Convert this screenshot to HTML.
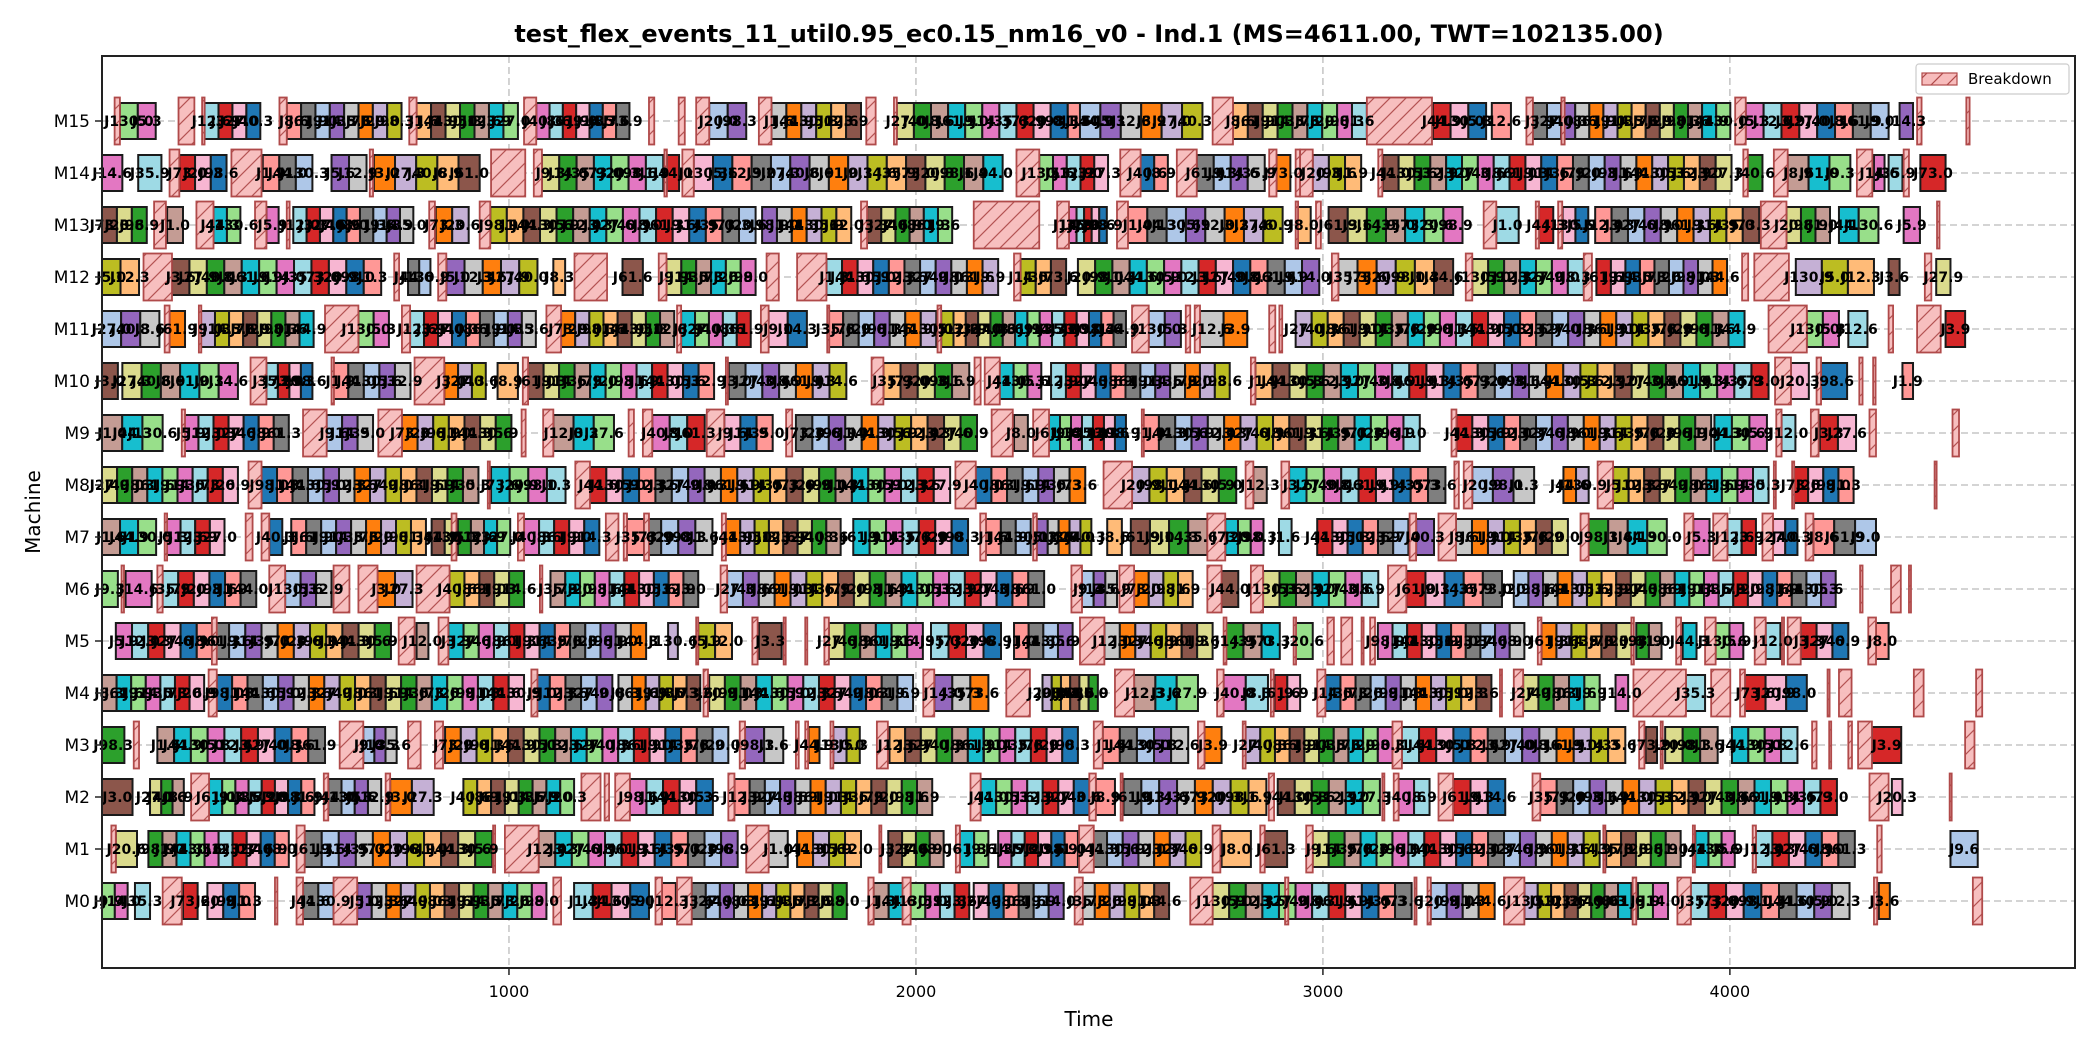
<!DOCTYPE html>
<html><head><meta charset="utf-8"><title>Gantt</title>
<style>
html,body{margin:0;padding:0;background:#fff;}
svg{display:block;}
text{font-family:"DejaVu Sans","Liberation Sans",sans-serif;}
</style></head>
<body>
<svg id="chart" width="2100" height="1050" viewBox="0 0 2100 1050" xmlns="http://www.w3.org/2000/svg">
<defs>
<pattern id="hatch" patternUnits="userSpaceOnUse" width="16" height="16" patternTransform="rotate(0)">
<rect width="16" height="16" fill="#f7bcbc"/>
<path d="M-4,20 L20,-4 M-4,4 L4,-4 M12,20 L20,12" stroke="#b04a4a" stroke-width="1.2"/>
</pattern>
</defs>
<rect x="0" y="0" width="2100" height="1050" fill="#fff"/>
<text x="1089" y="42" text-anchor="middle" font-size="24" font-weight="bold">test_flex_events_11_util0.95_ec0.15_nm16_v0 - Ind.1 (MS=4611.00, TWT=102135.00)</text>
<g id="grid"></g>
<g id="marks"></g>
<rect x="102" y="56" width="1973" height="912" fill="none" stroke="#222" stroke-width="2"/>
<g id="axes"></g>
<text x="1089" y="1026" text-anchor="middle" font-size="20">Time</text>
<text x="40" y="512" text-anchor="middle" font-size="20" transform="rotate(-90 40 512)">Machine</text>
<g>
<rect x="1916" y="64" width="153" height="30" rx="3" fill="#fff" fill-opacity="0.85" stroke="#ccc" stroke-width="1.2"/>
<rect x="1922" y="73" width="35" height="12" fill="url(#hatch)" stroke="#b04a4a" stroke-width="1.2"/>
<text x="1968" y="84" font-size="15">Breakdown</text>
</g>
</svg>
<script>
var xTicks=[1000,2000,3000,4000];
var machines=["M0","M1","M2","M3","M4","M5","M6","M7","M8","M9","M10","M11","M12","M13","M14","M15"];
// op clusters: [machine, start, end, count]
var opClusters=[
[15,44,132,2],[15,252,389,4],[15,454,736,8],[15,773,1022,7],[15,1067,1296,7],[15,1492,1583,2],[15,1645,1865,6],[15,1953,2457,12],[15,2403,2704,6],[15,2779,3108,9],[15,3270,3401,3],[15,3415,3462,1],[15,3516,4001,14],[15,4039,4390,8],[15,4417,4450,1],
[14,0,50,1],[14,89,146,1],[14,190,306,3],[14,395,517,3],[14,564,650,2],[14,668,928,5],[14,1081,1379,7],[14,1388,1418,1],[14,1454,2213,16],[14,2303,2472,5],[14,2552,2619,2],[14,2690,2857,4],[14,2886,2920,1],[14,2975,3094,3],[14,3147,4004,22],[14,4044,4080,1],[14,4142,4296,3],[14,4354,4380,1],[14,4390,4424,1],[14,4468,4530,1],
[13,0,110,3],[13,160,199,1],[13,274,340,2],[13,404,434,1],[13,470,765,9],[13,820,901,2],[13,954,1606,16],[13,1622,1841,6],[13,1880,2089,6],[13,2376,2469,5],[13,2521,2901,8],[13,2936,2970,1],[13,3014,3343,7],[13,3426,3481,1],[13,3531,3566,1],[13,3589,3652,2],[13,3669,4072,10],[13,4139,4246,3],[13,4268,4365,2],[13,4427,4467,1],
[12,0,91,2],[12,172,686,12],[12,752,807,2],[12,846,1070,5],[12,1109,1138,1],[12,1279,1329,1],[12,1387,1606,6],[12,1780,2202,11],[12,2257,2369,3],[12,2398,2991,14],[12,3038,3320,6],[12,3367,3641,7],[12,3672,3993,9],[12,4162,4354,3],[12,4390,4417,1],[12,4507,4542,1],
[11,0,141,3],[11,166,204,1],[11,243,520,8],[11,630,705,2],[11,757,1066,9],[11,1128,1406,8],[11,1423,1594,5],[11,1638,1732,2],[11,1783,2050,7],[11,2062,2516,15],[11,2572,2651,2],[11,2698,2814,2],[11,2933,4036,28],[11,4189,4268,2],[11,4291,4338,1],[11,4530,4578,1],
[10,0,39,1],[10,50,334,6],[10,404,517,4],[10,567,758,5],[10,841,943,3],[10,972,1022,1],[10,1047,1504,12],[10,1540,1829,7],[10,1920,2131,5],[10,2206,2308,3],[10,2332,2771,12],[10,2834,4095,30],[10,4150,4194,1],[10,4224,4288,1],[10,4424,4450,1],
[9,0,149,3],[9,200,459,7],[9,552,666,3],[9,737,1006,7],[9,1109,1258,3],[9,1352,1481,3],[9,1529,1648,3],[9,1705,2150,11],[9,2241,2275,1],[9,2327,2516,7],[9,2557,3238,17],[9,3328,3954,16],[9,3962,4091,3],[9,4127,4161,1],[9,4221,4310,2],
[8,0,334,9],[8,392,925,14],[8,956,1139,4],[8,1199,2084,22],[8,2147,2416,7],[8,2531,2787,6],[8,2829,2862,1],[8,2917,3301,9],[8,3367,3519,3],[8,3591,3653,2],[8,3713,4095,10],[8,4155,4304,4],
[7,0,133,3],[7,157,301,4],[7,411,443,1],[7,465,796,9],[7,810,1003,6],[7,1037,1222,5],[7,1290,1500,5],[7,1533,1815,8],[7,1846,2128,7],[7,2172,2282,3],[7,2297,2431,5],[7,2470,2506,1],[7,2528,2716,4],[7,2760,2854,3],[7,2892,2923,1],[7,2986,3210,6],[7,3229,3273,1],[7,3327,3602,7],[7,3653,3845,4],[7,3910,3950,1],[7,3994,4064,2],[7,4106,4166,2],[7,4205,4359,3],
[6,0,39,1],[6,58,122,1],[6,149,379,6],[6,450,564,3],[6,677,763,2],[6,854,1037,5],[6,1102,1465,10],[6,1536,2315,20],[6,2408,2494,3],[6,2536,2680,4],[6,2751,2792,1],[6,2853,3136,7],[6,3205,3440,5],[6,3469,4260,22],
[5,34,710,17],[5,773,802,1],[5,851,1337,13],[5,1391,1415,1],[5,1465,1548,2],[5,1614,1670,1],[5,1786,2017,6],[5,2037,2209,4],[5,2241,2385,4],[5,2463,2729,7],[5,2760,2894,3],[5,2933,2975,1],[5,3135,3495,10],[5,3537,3758,6],[5,3770,3832,2],[5,3884,3918,1],[5,3965,4033,2],[5,4088,4124,1],[5,4174,4291,3],[5,4359,4390,1],
[4,0,251,7],[4,282,1037,20],[4,1062,1254,5],[4,1269,1470,6],[4,1492,1993,13],[4,2045,2178,3],[4,2311,2447,6],[4,2536,2693,3],[4,2756,2865,2],[4,2881,2944,2],[4,3006,3414,11],[4,3492,3680,5],[4,3719,3750,1],[4,3892,3939,1],[4,4037,4189,3],
[3,0,55,1],[3,136,548,10],[3,642,724,3],[3,843,1539,18],[3,1580,1674,2],[3,1736,1763,1],[3,1797,1862,2],[3,1935,2166,6],[3,2167,2398,6],[3,2459,2669,5],[3,2709,2751,1],[3,2810,3171,10],[3,3194,3743,13],[3,3793,3821,1],[3,3841,3970,3],[3,4005,4166,4],[3,4349,4421,1],
[2,0,75,1],[2,118,201,3],[2,263,522,8],[2,556,686,4],[2,708,815,2],[2,888,1160,8],[2,1297,1501,5],[2,1554,2040,13],[2,2159,2426,7],[2,2442,2489,1],[2,2510,2861,8],[2,2889,3140,6],[2,3186,3262,2],[2,3320,3448,3],[2,3534,4263,18],[2,4398,4424,1],
[1,34,86,1],[1,114,459,10],[1,498,959,11],[1,1073,1562,12],[1,1638,1685,1],[1,1708,1865,4],[1,1932,2068,4],[1,2108,2178,2],[1,2202,2398,6],[1,2431,2701,7],[1,2751,2823,1],[1,2857,2912,1],[1,2975,3680,18],[1,3696,3879,5],[1,3915,4012,3],[1,4064,4307,6],[1,4542,4609,1],
[0,0,63,2],[0,81,118,1],[0,199,235,1],[0,259,376,3],[0,494,569,2],[0,627,1092,13],[0,1160,1344,4],[0,1376,1410,1],[0,1449,1830,11],[0,1896,1970,2],[0,1987,2131,4],[0,2142,2363,6],[0,2403,2622,6],[0,2729,3218,12],[0,3265,3422,4],[0,3495,3758,8],[0,3774,3848,2],[0,3904,4294,9],[0,4366,4393,1]
];
// breakdowns: [machine, start, end]
var breakdowns=[
[15,31,44],[15,188,227],[15,246,252],[15,436,454],[15,755,773],[15,1037,1067],[15,1344,1357],[15,1417,1432],[15,1460,1492],[15,1614,1645],[15,1878,1901],[15,1946,1953],[15,2729,2779],[15,3108,3268],[15,3500,3516],[15,3586,3594],[15,4013,4039],[15,4460,4471],[15,4581,4589],
[14,166,190],[14,318,392],[14,658,666],[14,956,1040],[14,1061,1081],[14,1382,1388],[14,1426,1454],[14,2247,2303],[14,2502,2552],[14,2641,2690],[14,2868,2886],[14,2933,2944],[14,2944,2975],[14,3136,3146],[14,4033,4044],[14,4108,4142],[14,4312,4350],[14,4427,4440],
[13,128,157],[13,232,274],[13,376,404],[13,454,461],[13,804,818],[13,928,954],[13,1865,1880],[13,2142,2303],[13,2347,2376],[13,2494,2521],[13,2933,2939],[13,2983,2995],[13,3395,3426],[13,3523,3531],[13,3578,3588],[13,4076,4139],[13,4509,4515],
[12,102,172],[12,718,730],[12,826,846],[12,1161,1241],[12,1368,1387],[12,1633,1663],[12,1708,1780],[12,2241,2257],[12,3022,3038],[12,3351,3367],[12,3641,3661],[12,4030,4045],[12,4060,4145],[12,4479,4495],
[11,154,166],[11,238,244],[11,548,630],[11,737,757],[11,1092,1128],[11,1413,1423],[11,1619,1638],[11,1782,1787],[11,2053,2062],[11,2531,2572],[11,2663,2674],[11,2685,2698],[11,2868,2883],[11,2893,2900],[11,4095,4189],[11,4390,4401],[11,4460,4518],
[10,365,404],[10,564,570],[10,768,841],[10,1034,1047],[10,1533,1538],[10,1891,1920],[10,2144,2159],[10,2169,2206],[10,2823,2834],[10,4111,4150],[10,4213,4224],[10,4318,4326],[10,4352,4358],
[9,196,204],[9,494,552],[9,679,737],[9,1031,1041],[9,1084,1109],[9,1294,1307],[9,1329,1352],[9,1486,1529],[9,1681,1696],[9,2186,2238],[9,2288,2327],[9,2555,2560],[9,3316,3328],[9,4114,4127],[9,4199,4218],[9,4343,4359],[9,4547,4563],
[8,360,392],[8,948,953],[8,1163,1199],[8,2097,2147],[8,2461,2531],[8,2810,2829],[8,2898,2917],[8,3323,3334],[8,3346,3367],[8,3675,3713],[8,4108,4112],[8,4153,4158],[8,4503,4508],
[7,154,160],[7,353,370],[7,392,411],[7,859,871],[7,1022,1037],[7,1238,1269],[7,1282,1290],[7,1332,1344],[7,1523,1533],[7,2158,2172],[7,2288,2297],[7,2716,2760],[7,3213,3229],[7,3284,3327],[7,3633,3653],[7,3888,3910],[7,3959,3994],[7,4080,4106],[7,4186,4205],
[6,48,54],[6,136,149],[6,411,450],[6,569,608],[6,630,677],[6,773,854],[6,1076,1082],[6,1520,1536],[6,2382,2408],[6,2500,2536],[6,2716,2751],[6,2823,2853],[6,3160,3205],[6,4320,4326],[6,4396,4420],[6,4440,4445],
[5,270,282],[5,729,768],[5,827,851],[5,1460,1465],[5,1598,1611],[5,1675,1680],[5,1728,1733],[5,1775,1786],[5,2403,2463],[5,2756,2763],[5,2928,2934],[5,3011,3027],[5,3045,3072],[5,3095,3100],[5,3116,3128],[5,3528,3537],[5,3758,3764],[5,3868,3880],[5,3939,3965],[5,4061,4088],[5,4128,4133],[5,4142,4174],[5,4340,4359],
[4,262,282],[4,1055,1070],[4,1478,1489],[4,2018,2045],[4,2222,2280],[4,2489,2536],[4,2740,2756],[4,2872,2879],[4,2986,3006],[4,3435,3440],[4,3469,3492],[4,3763,3892],[4,3954,4001],[4,4025,4037],[4,4240,4245],[4,4268,4299],[4,4452,4476],[4,4605,4620],
[3,78,91],[3,584,642],[3,752,783],[3,818,838],[3,1567,1580],[3,1705,1712],[3,1728,1735],[3,1790,1797],[3,1904,1931],[3,2437,2459],[3,2693,2709],[3,2803,2810],[3,3171,3194],[3,3777,3790],[3,3830,3835],[3,4202,4213],[3,4244,4248],[3,4291,4300],[3,4315,4349],[3,4578,4601],
[2,219,263],[2,545,556],[2,697,708],[2,1178,1225],[2,1235,1246],[2,1261,1297],[2,1539,1554],[2,2134,2159],[2,2426,2442],[2,2503,2507],[2,2867,2880],[2,3146,3151],[2,3174,3186],[2,3284,3320],[2,3515,3534],[2,4343,4390],[2,4540,4545],
[1,23,34],[1,478,498],[1,961,966],[1,990,1073],[1,1583,1638],[1,1910,1915],[1,2098,2108],[1,2401,2437],[1,2729,2748],[1,2846,2857],[1,2959,2975],[1,3689,3694],[1,3909,3914],[1,4056,4064],[1,4362,4373],
[0,149,196],[0,425,431],[0,478,494],[0,569,627],[0,1109,1128],[0,1360,1376],[0,1413,1449],[0,1883,1896],[0,1967,1987],[0,2390,2410],[0,2674,2729],[0,2907,2915],[0,3225,3230],[0,3257,3265],[0,3445,3495],[0,3761,3770],[0,3871,3904],[0,4354,4362],[0,4597,4620]
];
var jobPrefix=["J5.","J12.","J3.","J27.","J40.","J8.","J61.","J9.","J14.","J35.","J73.","J20.","J98.","J1.","J44.","J130."];
var palette=["#1f77b4","#aec7e8","#ff7f0e","#ffbb78","#2ca02c","#98df8a","#d62728","#ff9896","#9467bd","#c5b0d5","#8c564b","#c49c94","#e377c2","#f7b6d2","#7f7f7f","#c7c7c7","#bcbd22","#dbdb8d","#17becf","#9edae5"];

var NS="http://www.w3.org/2000/svg";
var X0=102,X1=2075,XMAX=4848;
function xs(t){return X0+t*(X1-X0)/XMAX;}
function ys(m){return 901-m*52;}
var grid=document.getElementById('grid');
var marks=document.getElementById('marks');
var axes=document.getElementById('axes');
function mk(tag,attrs,parent){var e=document.createElementNS(NS,tag);for(var k in attrs)e.setAttribute(k,attrs[k]);parent.appendChild(e);return e;}

xTicks.forEach(function(t){
  var l=mk('line',{x1:xs(t),x2:xs(t),y1:56,y2:968,stroke:'#bbb','stroke-width':1.3,'stroke-dasharray':'7,4'},grid);
  
  
  var tk=mk('line',{x1:xs(t),x2:xs(t),y1:968,y2:975,stroke:'#222','stroke-width':1.5},axes);
  
  
  var tx=mk('text',{x:xs(t),y:997,'text-anchor':'middle','font-size':16},axes);
  tx.textContent=String(t);
  
  
});
machines.forEach(function(name,m){
  var l=mk('line',{x1:X0,x2:X1,y1:ys(m),y2:ys(m),stroke:'#bbb','stroke-width':1.3,'stroke-dasharray':'7,4'},grid);
  
  
  var tk=mk('line',{x1:95,x2:102,y1:ys(m),y2:ys(m),stroke:'#222','stroke-width':1.5},axes);
  
  
  var tx=mk('text',{x:90,y:ys(m)+6,'text-anchor':'end','font-size':17},axes);
  tx.textContent=name;
  
  
});

var labels=[];
var ci=0;
opClusters.forEach(function(c){
  var m=c[0],s=c[1],e=c[2],n=c[3];
  var w=(e-s)/n;
  for(var i=0;i<n;i++){
    var t0=s+i*w;
    var col=palette[(ci*7+m*3)%palette.length];
    var r=mk('rect',{x:xs(t0),y:ys(m)-18,width:Math.max(1,xs(t0+w)-xs(t0)),height:36,fill:col,stroke:'#1a1a1a','stroke-width':2},marks);
    
    
    labels.push([xs(t0+w/2),ys(m)+5,jobPrefix[(ci+m)%jobPrefix.length]+((ci*3)%12)]);
    ci++;
  }
});
breakdowns.forEach(function(b){
  var m=b[0];
  var r=mk('rect',{x:xs(b[1]),y:ys(m)-23.5,width:Math.max(2,xs(b[2])-xs(b[1])),height:47,fill:'url(#hatch)',stroke:'#b04a4a','stroke-width':1.8,'fill-opacity':0.95},marks);
  
  
});
labels.forEach(function(L){
  var tx=mk('text',{x:L[0],y:L[1],'text-anchor':'middle','font-size':14,'font-weight':'bold',fill:'#000'},marks);
  tx.textContent=L[2];
  
  
});
</script>
</body></html>
